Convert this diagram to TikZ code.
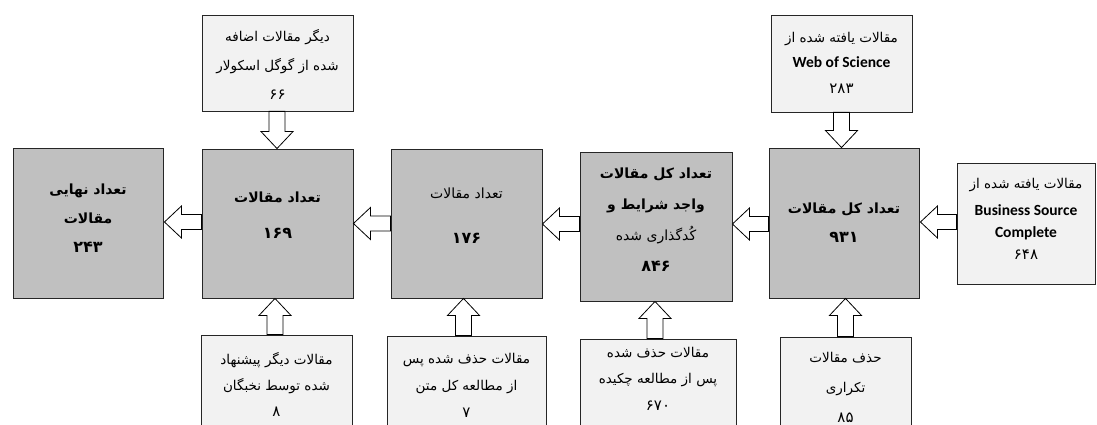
\documentclass[tikz,border=0pt]{standalone}
\usepackage{fontspec}
\setmainfont{DejaVu Sans}
\newfontfamily\fa[Script=Arabic]{DejaVu Sans}
\newfontfamily\lat{Carlito}
\TeXXeTstate=1
\usetikzlibrary{calc,shadows}
\definecolor{boxgray}{RGB}{192,192,192}
\definecolor{sidegray}{RGB}{242,242,242}
\newcommand{\R}[1]{\beginR #1\endR}
\newcommand{\dg}[1]{{\fontsize{16}{16}\selectfont #1}}
\newcommand{\ds}[1]{{\fontsize{15}{15}\selectfont #1}}
% horizontal block arrow: #1 tail (right), #2 tip (left)
\newcommand{\harrow}[2]{%
  \draw[barrow] let \p1=(#1),\p2=(#2) in
  (\x1,\y2+7.5pt) -- (\x2+17pt,\y2+7.5pt) -- (\x2+17pt,\y2+16pt) -- (\x2,\y2)
  -- (\x2+17pt,\y2-16pt) -- (\x2+17pt,\y2-7.5pt) -- (\x1,\y2-7.5pt) -- cycle;}
% upward block arrow: #1 tail (below), #2 tip (above)
\newcommand{\uarrow}[2]{%
  \draw[barrow] let \p1=(#1),\p2=(#2) in
  (\x1-8pt,\y1) -- (\x1-8pt,\y2-17pt) -- (\x1-16pt,\y2-17pt) -- (\x1,\y2)
  -- (\x1+16pt,\y2-17pt) -- (\x1+8pt,\y2-17pt) -- (\x1+8pt,\y1) -- cycle;}
% downward block arrow: #1 tail (above), #2 tip (below)
\newcommand{\darrow}[2]{%
  \draw[barrow] let \p1=(#1),\p2=(#2) in
  (\x1-8pt,\y1) -- (\x1-8pt,\y2+17pt) -- (\x1-16pt,\y2+17pt) -- (\x1,\y2)
  -- (\x1+16pt,\y2+17pt) -- (\x1+8pt,\y2+17pt) -- (\x1+8pt,\y1) -- cycle;}
\begin{document}
\begin{tikzpicture}[x=1pt,y=-1pt,
  mainbox/.style={draw=black!85, line width=0.9pt, fill=boxgray, inner sep=0pt,
    drop shadow={shadow xshift=0.6pt, shadow yshift=-1.4pt, fill=black!75, opacity=1}},
  sidebox/.style={draw=black!85, line width=0.8pt, fill=sidegray, inner sep=0pt,
    drop shadow={shadow xshift=0.6pt, shadow yshift=-1.2pt, fill=black!55, opacity=1}},
  barrow/.style={draw=black, line width=0.8pt, fill=white, line join=miter},
  mtext/.style={align=center, inner sep=0pt, font=\fa\bfseries\fontsize{14}{29}\selectfont},
  stext/.style={align=center, inner sep=0pt, font=\fa\fontsize{13.5}{27}\selectfont},
]
\useasboundingbox (0,0) rectangle (1097,425);
% main boxes
\node[mainbox, minimum width=150pt, minimum height=150pt] (A) at (88,223) {};
\node[mainbox, minimum width=151pt, minimum height=149pt] (B) at (277.5,223.5) {};
\node[mainbox, minimum width=151pt, minimum height=149pt] (C) at (466.5,223.5) {};
\node[mainbox, minimum width=152pt, minimum height=149pt] (D) at (656,226.5) {};
\node[mainbox, minimum width=150pt, minimum height=150pt] (E) at (844,223) {};
% side boxes
\node[sidebox, minimum width=151pt, minimum height=96pt] (TB) at (277.5,63) {};
\node[sidebox, minimum width=141pt, minimum height=97pt] (TE) at (841.5,63.5) {};
\node[sidebox, minimum width=138pt, minimum height=121pt] (BSC) at (1026,223.5) {};
\node[sidebox, minimum width=151pt, minimum height=110pt] (BB) at (276.5,390) {};
\node[sidebox, minimum width=159pt, minimum height=109pt] (BC) at (466.5,390.5) {};
\node[sidebox, minimum width=156pt, minimum height=106pt] (BD) at (658,392) {};
\node[sidebox, minimum width=131pt, minimum height=108pt] (BE) at (845.5,391) {};
% texts
\node[mtext] (tA) at (88,218.5) {\R{تعداد نهایی}\\\R{مقالات}\\\dg{۲۴۳}};
\node[mtext] (tB) at (277.5,215) {\R{تعداد مقالات}\\[7pt]\dg{۱۶۹}};
\node[mtext] (tC) at (466.5,215.5) {{\mdseries\R{تعداد مقالات}}\\[16pt]\dg{۱۷۶}};
\node[mtext, font=\fa\bfseries\fontsize{14}{31}\selectfont] (tD) at (656,220)
  {\R{تعداد کل مقالات}\\\R{واجد شرایط و}\\{\mdseries\R{کُدگذاری شده}}\\\dg{۸۴۶}};
\node[mtext] (tE) at (844,223) {\R{تعداد کل مقالات}\\\dg{۹۳۱}};
\node[stext, font=\fa\fontsize{13.5}{29}\selectfont] (tTB) at (277.5,64)
  {\R{دیگر مقالات اضافه}\\\R{شده از گوگل اسکولار}\\\ds{۶۶}};
\node[stext, font=\fa\fontsize{13.5}{25.5}\selectfont] (tTE) at (841.5,62.5)
  {\R{مقالات یافته شده از}\\{\lat\bfseries\fontsize{15.5}{25.5}\selectfont Web of Science}\\\ds{۲۸۳}};
\node[stext, font=\fa\fontsize{13.5}{22}\selectfont] (tBSC) at (1026,219)
  {\R{مقالات یافته شده از}\\[5pt]{\lat\bfseries\fontsize{15.5}{22}\selectfont Business Source}\\{\lat\bfseries\fontsize{15.5}{22}\selectfont Complete}\\\ds{۶۴۸}};
\node[stext, font=\fa\fontsize{13.5}{26}\selectfont] (tBB) at (276.5,384)
  {\R{مقالات دیگر پیشنهاد}\\\R{شده توسط نخبگان}\\\ds{۸}};
\node[stext] (tBC) at (466.5,385.5)
  {\R{مقالات حذف شده پس}\\\R{از مطالعه کل متن}\\\ds{۷}};
\node[stext, font=\fa\fontsize{13.5}{26.5}\selectfont] (tBD) at (658,378.5)
  {\R{مقالات حذف شده}\\\R{پس از مطالعه چکیده}\\\ds{۶۷۰}};
\node[stext, font=\fa\fontsize{13.5}{30}\selectfont] (tBE) at (845.5,387.5)
  {\R{حذف مقالات}\\\R{تکراری}\\\ds{۸۵}};
% horizontal arrows
\harrow{B.west}{$(A.east)+(1,-1)$}
\harrow{C.west}{B.east}
\harrow{D.west}{$(C.east)+(0,0.5)$}
\harrow{E.west}{$(D.east)+(0,-2.5)$}
\harrow{BSC.west}{$(E.east)+(1,-1)$}
% downward arrows
\darrow{$(TB.south)+(-0.5,0)$}{B.north}
\darrow{TE.south}{E.north}
% upward arrows
\uarrow{$(BB.north)+(-1.5,0)$}{B.south}
\uarrow{$(BC.north)+(-3,0)$}{C.south}
\uarrow{$(BD.north)+(-3,0)$}{D.south}
\uarrow{BE.north}{E.south}
\end{tikzpicture}
\end{document}
